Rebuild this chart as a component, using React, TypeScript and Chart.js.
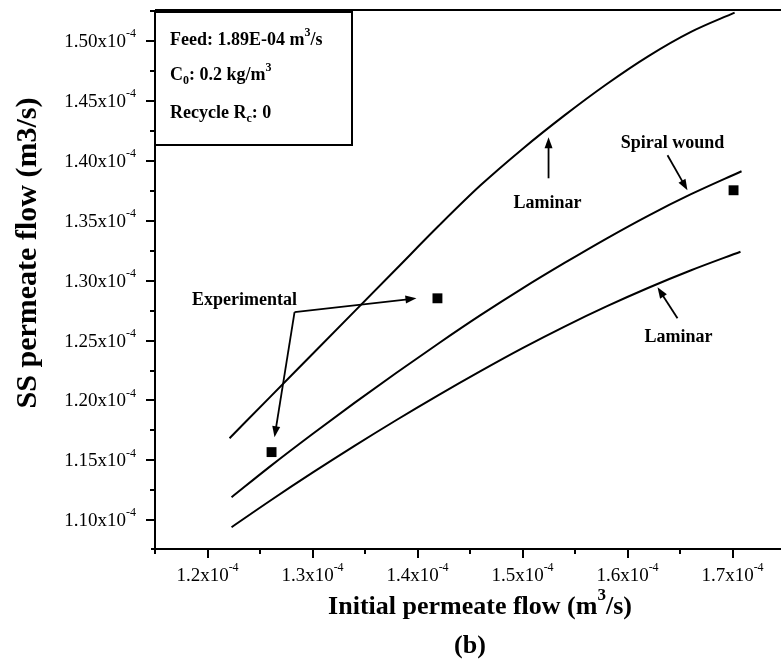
import { useEffect, useRef } from "react";
import { Chart, registerables } from "chart.js";

Chart.register(...registerables);

// All flows are in units of 1e-4 m³/s.

// Laminar model, upper curve
const laminarUpperX = [1.221, 1.26, 1.3, 1.34, 1.38, 1.42, 1.46, 1.5, 1.54, 1.58, 1.62, 1.66, 1.702];
const laminarUpperY = [1.1685, 1.2032, 1.2388, 1.2744, 1.31, 1.3456, 1.3796, 1.41, 1.438, 1.464, 1.4875, 1.5075, 1.5238];

// Spiral wound model
const spiralX = [1.2229, 1.26, 1.3, 1.34, 1.38, 1.42, 1.46, 1.5, 1.54, 1.58, 1.62, 1.66, 1.7086];
const spiralY = [1.1192, 1.1452, 1.172, 1.198, 1.2232, 1.2476, 1.2712, 1.2936, 1.3148, 1.3352, 1.3544, 1.372, 1.3914];

// Laminar model, lower curve
const laminarLowerX = [1.2229, 1.26, 1.3, 1.34, 1.38, 1.42, 1.46, 1.5, 1.54, 1.58, 1.62, 1.66, 1.7076];
const laminarLowerY = [1.0942, 1.1165, 1.1397, 1.1621, 1.1837, 1.2045, 1.2245, 1.2437, 1.2617, 1.2785, 1.2941, 1.3085, 1.3242];

// Experimental points
const experimentalX = [1.261, 1.419, 1.701];
const experimentalY = [1.1569, 1.2853, 1.3755];

// Axis ticks
const xMajorTicks = [1.2, 1.3, 1.4, 1.5, 1.6, 1.7];
const xTickLabels = ["1.2x10", "1.3x10", "1.4x10", "1.5x10", "1.6x10", "1.7x10"];
const xMinorTicks = [1.15, 1.25, 1.35, 1.45, 1.55, 1.65, 1.75];
const yMajorTicks = [1.1, 1.15, 1.2, 1.25, 1.3, 1.35, 1.4, 1.45, 1.5];
const yTickLabels = ["1.10x10", "1.15x10", "1.20x10", "1.25x10", "1.30x10", "1.35x10", "1.40x10", "1.45x10", "1.50x10"];
const yMinorTicks = [1.125, 1.175, 1.225, 1.275, 1.325, 1.375, 1.425, 1.475, 1.525];
const tickExponent = "-4";

type Seg = { t: string; k?: "sup" | "sub" };

// Operating conditions box
const conditionLines: Seg[][] = [
  [{ t: "Feed: 1.89E-04 m" }, { t: "3", k: "sup" }, { t: "/s" }],
  [{ t: "C" }, { t: "0", k: "sub" }, { t: ": 0.2 kg/m" }, { t: "3", k: "sup" }],
  [{ t: "Recycle R" }, { t: "c", k: "sub" }, { t: ": 0" }],
];

// Callouts: label position and arrows, in data units
type Callout = { text: string; lx: number; ly: number; arrows: { x0: number; y0: number; x1: number; y1: number }[] };
const callouts: Callout[] = [
  { text: "Laminar", lx: 1.5238, ly: 1.3647, arrows: [{ x0: 1.5248, y0: 1.3855, x1: 1.5248, y1: 1.4198 }] },
  { text: "Spiral wound", lx: 1.6429, ly: 1.4147, arrows: [{ x0: 1.6381, y0: 1.4047, x1: 1.6571, y1: 1.3755 }] },
  { text: "Laminar", lx: 1.6486, ly: 1.2528, arrows: [{ x0: 1.6476, y0: 1.2686, x1: 1.6286, y1: 1.2945 }] },
  {
    text: "Experimental",
    lx: 1.2352,
    ly: 1.2837,
    arrows: [
      { x0: 1.2829, y0: 1.2737, x1: 1.399, y1: 1.2853 },
      { x0: 1.2829, y0: 1.2737, x1: 1.2638, y1: 1.1693 },
    ],
  },
];

const SERIF = "'Liberation Serif', 'Times New Roman', serif";

function richWidth(ctx: CanvasRenderingContext2D, segs: Seg[], size: number, weight: string) {
  let w = 0;
  for (const s of segs) {
    const fs = s.k ? Math.round(size * 0.65) : size;
    ctx.font = `${weight} ${fs}px ${SERIF}`;
    w += ctx.measureText(s.t).width;
  }
  return w;
}

function drawRich(
  ctx: CanvasRenderingContext2D,
  segs: Seg[],
  x: number,
  y: number,
  size: number,
  weight: string,
  align: "left" | "center" | "right"
) {
  const total = richWidth(ctx, segs, size, weight);
  let cx = align === "left" ? x : align === "center" ? x - total / 2 : x - total;
  ctx.textAlign = "left";
  ctx.textBaseline = "middle";
  for (const s of segs) {
    const fs = s.k ? Math.round(size * 0.65) : size;
    ctx.font = `${weight} ${fs}px ${SERIF}`;
    const dy = s.k === "sup" ? -size * 0.42 : s.k === "sub" ? size * 0.32 : 0;
    ctx.fillText(s.t, cx, y + dy);
    cx += ctx.measureText(s.t).width;
  }
}

function arrow(ctx: CanvasRenderingContext2D, x0: number, y0: number, x1: number, y1: number) {
  const ang = Math.atan2(y1 - y0, x1 - x0);
  const len = 11;
  const hw = 4;
  ctx.beginPath();
  ctx.moveTo(x0, y0);
  ctx.lineTo(x1 - Math.cos(ang) * len * 0.8, y1 - Math.sin(ang) * len * 0.8);
  ctx.stroke();
  ctx.beginPath();
  ctx.moveTo(x1, y1);
  ctx.lineTo(x1 - Math.cos(ang) * len - Math.sin(ang) * hw, y1 - Math.sin(ang) * len + Math.cos(ang) * hw);
  ctx.lineTo(x1 - Math.cos(ang) * len + Math.sin(ang) * hw, y1 - Math.sin(ang) * len - Math.cos(ang) * hw);
  ctx.closePath();
  ctx.fill();
}

const framePlugin = {
  id: "frame",
  afterDraw(chart: any) {
    const ctx: CanvasRenderingContext2D = chart.ctx;
    const { left, right, top, bottom } = chart.chartArea;
    const xs = chart.scales.x;
    const ys = chart.scales.y;
    ctx.save();
    ctx.strokeStyle = "#000";
    ctx.fillStyle = "#000";
    ctx.lineWidth = 2;

    // axis lines and top frame
    ctx.beginPath();
    ctx.moveTo(left, top);
    ctx.lineTo(left, bottom);
    ctx.moveTo(left - 4, bottom);
    ctx.lineTo(right, bottom);
    ctx.moveTo(left, top);
    ctx.lineTo(right, top);
    ctx.stroke();

    // tick marks
    ctx.beginPath();
    for (const v of yMajorTicks) {
      const py = Math.round(ys.getPixelForValue(v));
      ctx.moveTo(left - 9, py);
      ctx.lineTo(left, py);
    }
    for (const v of yMinorTicks) {
      const py = Math.round(ys.getPixelForValue(v));
      ctx.moveTo(left - 5, py);
      ctx.lineTo(left, py);
    }
    for (const v of xMajorTicks) {
      const px = Math.round(xs.getPixelForValue(v));
      ctx.moveTo(px, bottom);
      ctx.lineTo(px, bottom + 9);
    }
    for (const v of xMinorTicks) {
      const px = Math.round(xs.getPixelForValue(v));
      ctx.moveTo(px, bottom);
      ctx.lineTo(px, bottom + 5);
    }
    ctx.stroke();

    // tick labels
    yMajorTicks.forEach((v, i) => {
      const py = ys.getPixelForValue(v);
      drawRich(ctx, [{ t: yTickLabels[i] }, { t: tickExponent, k: "sup" }], left - 19, py + 1, 19, "normal", "right");
    });
    xMajorTicks.forEach((v, i) => {
      const px = xs.getPixelForValue(v);
      drawRich(ctx, [{ t: xTickLabels[i] }, { t: tickExponent, k: "sup" }], px, bottom + 27, 19, "normal", "center");
    });

    // axis titles
    drawRich(ctx, [{ t: "Initial permeate flow (m" }, { t: "3", k: "sup" }, { t: "/s)" }], 480, 607, 26, "bold", "center");
    drawRich(ctx, [{ t: "(b)" }], 470, 646, 26, "bold", "center");
    ctx.save();
    ctx.translate(28, 253);
    ctx.rotate(-Math.PI / 2);
    drawRich(ctx, [{ t: "SS permeate flow (m3/s)" }], 0, 0, 30, "bold", "center");
    ctx.restore();

    // operating conditions box
    ctx.lineWidth = 2;
    ctx.fillStyle = "#fff";
    ctx.fillRect(left, top + 2, 197, 133);
    ctx.strokeRect(left, top + 2, 197, 133);
    ctx.fillStyle = "#000";
    const rows = [40, 75, 113];
    conditionLines.forEach((segs, i) => drawRich(ctx, segs, left + 15, rows[i], 18, "bold", "left"));

    // callouts
    ctx.lineWidth = 1.8;
    for (const c of callouts) {
      drawRich(ctx, [{ t: c.text }], xs.getPixelForValue(c.lx), ys.getPixelForValue(c.ly), 18, "bold", "center");
      for (const a of c.arrows) {
        arrow(ctx, xs.getPixelForValue(a.x0), ys.getPixelForValue(a.y0), xs.getPixelForValue(a.x1), ys.getPixelForValue(a.y1));
      }
    }
    ctx.restore();
  },
};

function pts(xs: number[], ys: number[]) {
  return xs.map((x, i) => ({ x, y: ys[i] }));
}

const curveStyle = {
  showLine: true,
  borderColor: "#000",
  borderWidth: 2,
  pointRadius: 0,
  cubicInterpolationMode: "monotone" as const,
};

export default function App() {
  const ref = useRef<HTMLCanvasElement | null>(null);

  useEffect(() => {
    if (!ref.current) return;
    const chart = new Chart(ref.current, {
      type: "scatter",
      data: {
        datasets: [
          { label: "Laminar (upper)", data: pts(laminarUpperX, laminarUpperY), ...curveStyle },
          { label: "Spiral wound", data: pts(spiralX, spiralY), ...curveStyle },
          { label: "Laminar (lower)", data: pts(laminarLowerX, laminarLowerY), ...curveStyle },
          {
            label: "Experimental",
            data: pts(experimentalX, experimentalY),
            showLine: false,
            pointStyle: "rect",
            pointRadius: 7,
            backgroundColor: "#000",
            borderWidth: 0,
          },
        ],
      },
      options: {
        responsive: false,
        maintainAspectRatio: false,
        animation: false,
        devicePixelRatio: 1,
        layout: { padding: { top: 10, right: 15, left: 0, bottom: 0 } },
        plugins: { legend: { display: false }, tooltip: { enabled: false } },
        scales: {
          x: {
            type: "linear",
            min: 1.15,
            max: 1.75,
            grid: { display: false },
            border: { display: false },
            ticks: { display: false },
            afterFit: (s: any) => {
              s.height = 116;
            },
          },
          y: {
            type: "linear",
            min: 1.076,
            max: 1.526,
            grid: { display: false },
            border: { display: false },
            ticks: { display: false },
            afterFit: (s: any) => {
              s.width = 155;
            },
          },
        },
      },
      plugins: [framePlugin],
    });
    return () => chart.destroy();
  }, []);

  return (
    <div style={{ position: "fixed", left: 0, top: 0, width: 781, height: 665, overflow: "hidden", background: "#fff" }}>
      <canvas ref={ref} width={800} height={665} style={{ display: "block" }} />
    </div>
  );
}
